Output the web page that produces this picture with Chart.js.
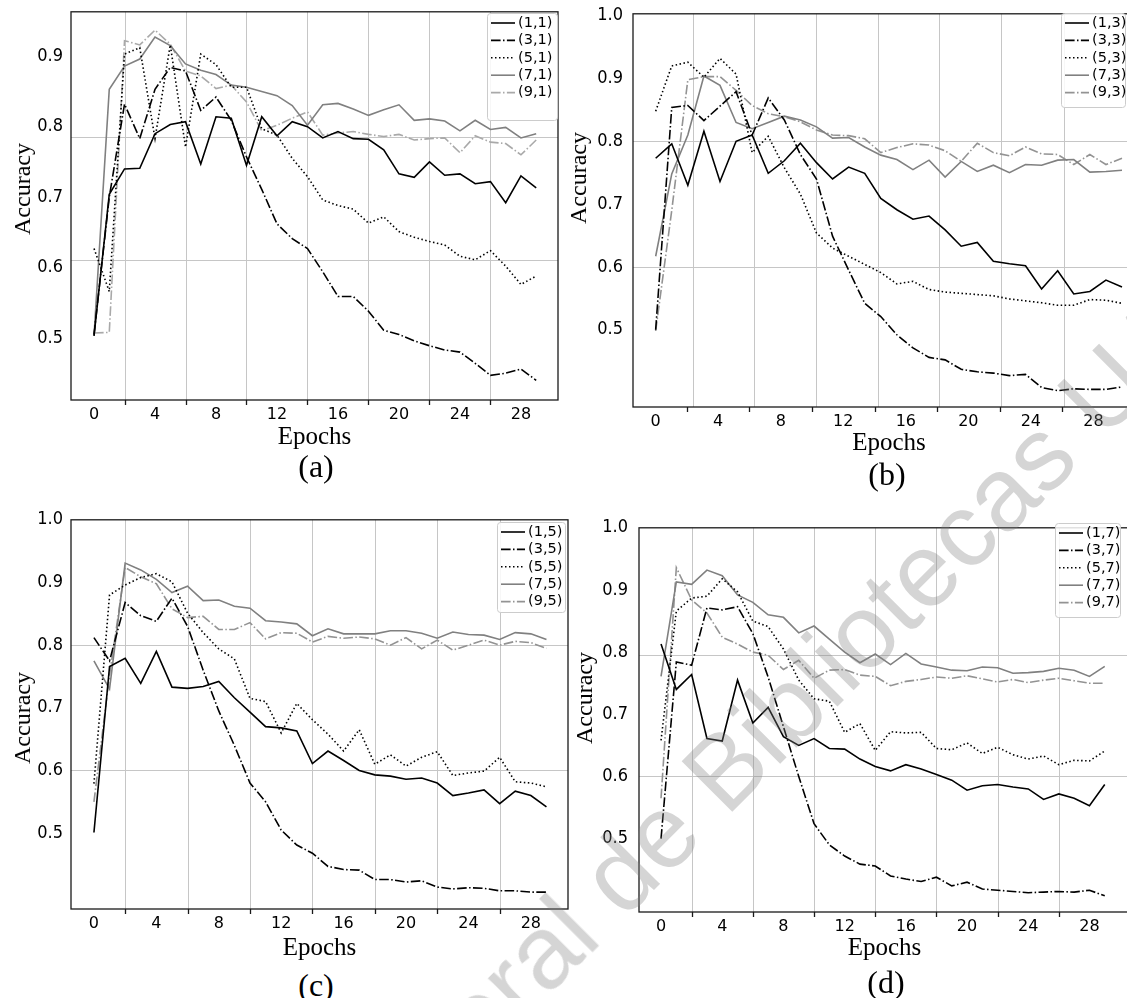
<!DOCTYPE html>
<html>
<head>
<meta charset="utf-8">
<script src="https://cdn.jsdelivr.net/npm/chart.js@4.4.1/dist/chart.umd.min.js"></script>
<style>
  html, body { margin: 0; padding: 0; background: #fff; width: 1127px; height: 998px; overflow: hidden; }
  body { position: relative; }
  .txt { position: absolute; font-family: 'Liberation Serif', 'Times New Roman', serif; color: #000; white-space: nowrap; line-height: 1; }
  .tag { font-size: 32px; transform: translate(-50%, -50%); }
  .ytitle { font-size: 24px; transform: translate(-50%, -50%) rotate(-90deg); }
  .mark { position: absolute; font-family: 'Liberation Sans', Arial, sans-serif; font-size: 104px; line-height: 1; color: rgba(128,128,128,0.33); white-space: nowrap; transform-origin: 0 88px; pointer-events: none; z-index: 5; }
</style>
</head>
<body>
<script>
// epochs and axis ticks
const epochs = [0,1,2,3,4,5,6,7,8,9,10,11,12,13,14,15,16,17,18,19,20,21,22,23,24,25,26,27,28,29];
const xTickLabels = [0, 4, 8, 12, 16, 20, 24, 28];
const yTicksA = [0.5, 0.6, 0.7, 0.8, 0.9];
const yTicksBCD = [0.5, 0.6, 0.7, 0.8, 0.9, 1.0];

const namesA = ['(1,1)', '(3,1)', '(5,1)', '(7,1)', '(9,1)'];
const namesB = ['(1,3)', '(3,3)', '(5,3)', '(7,3)', '(9,3)'];
const namesC = ['(1,5)', '(3,5)', '(5,5)', '(7,5)', '(9,5)'];
const namesD = ['(1,7)', '(3,7)', '(5,7)', '(7,7)', '(9,7)'];

// (a)
const acc11 = [0.503,0.704,0.740,0.741,0.790,0.803,0.807,0.747,0.814,0.812, 0.745,0.814,0.787,0.807,0.800,0.784,0.793,0.783,0.782,0.767, 0.733,0.728,0.750,0.731,0.733,0.719,0.722,0.692,0.730,0.713];
const acc31 = [0.505,0.700,0.832,0.783,0.853,0.884,0.879,0.823,0.842,0.809, 0.757,0.711,0.662,0.641,0.627,0.594,0.559,0.559,0.538,0.511, 0.505,0.496,0.489,0.483,0.480,0.464,0.447,0.450,0.456,0.440];
const acc51 = [0.627,0.566,0.903,0.912,0.783,0.916,0.771,0.903,0.888,0.856, 0.856,0.797,0.788,0.755,0.729,0.696,0.688,0.683,0.663,0.672, 0.651,0.643,0.637,0.632,0.616,0.611,0.624,0.602,0.576,0.588];
const acc71 = [0.503,0.853,0.886,0.896,0.927,0.915,0.889,0.880,0.874,0.859, 0.856,0.850,0.844,0.830,0.802,0.831,0.833,0.825,0.816,0.824, 0.831,0.809,0.811,0.808,0.794,0.809,0.796,0.799,0.784,0.790];
const acc91 = [0.507,0.508,0.922,0.916,0.937,0.917,0.879,0.872,0.854,0.859, 0.835,0.794,0.802,0.812,0.821,0.788,0.791,0.793,0.789,0.786, 0.789,0.781,0.783,0.784,0.763,0.787,0.778,0.776,0.760,0.781];
// (b)
const acc13 = [0.773,0.796,0.730,0.816,0.736,0.800,0.810,0.749,0.769,0.797, 0.766,0.740,0.759,0.749,0.709,0.691,0.676,0.681,0.659,0.633, 0.639,0.609,0.605,0.602,0.565,0.594,0.557,0.561,0.579,0.568];
const acc33 = [0.500,0.854,0.857,0.833,0.856,0.879,0.810,0.869,0.834,0.779, 0.740,0.649,0.595,0.542,0.521,0.492,0.471,0.456,0.452,0.437, 0.433,0.431,0.427,0.429,0.408,0.403,0.406,0.405,0.405,0.409];
const acc53 = [0.848,0.920,0.926,0.902,0.932,0.907,0.782,0.808,0.758,0.716, 0.654,0.630,0.617,0.604,0.591,0.573,0.577,0.564,0.560,0.558, 0.556,0.554,0.549,0.546,0.543,0.539,0.539,0.548,0.547,0.542];
const acc73 = [0.617,0.748,0.810,0.904,0.889,0.830,0.820,0.830,0.840,0.834, 0.823,0.805,0.806,0.791,0.778,0.771,0.755,0.770,0.743,0.768, 0.752,0.762,0.750,0.763,0.762,0.770,0.771,0.751,0.752,0.754];
const acc93 = [0.498,0.690,0.898,0.903,0.903,0.881,0.857,0.844,0.839,0.831, 0.818,0.810,0.809,0.804,0.782,0.790,0.796,0.794,0.785,0.768, 0.797,0.782,0.777,0.791,0.780,0.779,0.763,0.779,0.763,0.773];
// (c)
const acc15 = [0.501,0.766,0.779,0.739,0.790,0.733,0.731,0.734,0.742,0.716, 0.693,0.670,0.668,0.663,0.611,0.631,0.616,0.600,0.593,0.591, 0.586,0.588,0.580,0.560,0.564,0.569,0.547,0.567,0.560,0.542];
const acc35 = [0.812,0.775,0.868,0.847,0.838,0.875,0.830,0.760,0.695,0.640, 0.580,0.550,0.505,0.481,0.468,0.447,0.442,0.441,0.426,0.426, 0.422,0.424,0.414,0.411,0.413,0.412,0.408,0.408,0.406,0.406];
const acc55 = [0.579,0.880,0.896,0.908,0.914,0.901,0.851,0.820,0.794,0.778, 0.715,0.710,0.660,0.707,0.681,0.658,0.631,0.665,0.610,0.625, 0.607,0.621,0.630,0.592,0.596,0.599,0.621,0.582,0.580,0.574];
const acc75 = [0.775,0.730,0.931,0.920,0.905,0.884,0.894,0.871,0.872,0.862, 0.859,0.839,0.837,0.834,0.815,0.826,0.818,0.818,0.818,0.823, 0.823,0.819,0.811,0.821,0.817,0.816,0.809,0.820,0.818,0.809];
const acc95 = [0.550,0.752,0.924,0.909,0.898,0.858,0.844,0.846,0.825,0.825, 0.836,0.810,0.820,0.819,0.805,0.814,0.811,0.813,0.810,0.800, 0.812,0.794,0.808,0.792,0.800,0.808,0.800,0.806,0.804,0.795];
// (d)
const acc17 = [0.813,0.740,0.764,0.661,0.657,0.755,0.686,0.711,0.664,0.650, 0.661,0.645,0.644,0.628,0.616,0.609,0.619,0.612,0.603,0.594, 0.578,0.585,0.587,0.583,0.580,0.563,0.572,0.565,0.553,0.587];
const acc37 = [0.500,0.784,0.779,0.871,0.868,0.873,0.830,0.760,0.680,0.600, 0.524,0.490,0.472,0.459,0.456,0.440,0.435,0.431,0.438,0.424, 0.430,0.419,0.417,0.415,0.413,0.414,0.415,0.414,0.417,0.408];
const acc57 = [0.658,0.866,0.887,0.890,0.918,0.897,0.850,0.841,0.805,0.755, 0.725,0.721,0.671,0.685,0.642,0.672,0.670,0.671,0.645,0.643, 0.654,0.637,0.647,0.635,0.628,0.633,0.619,0.626,0.625,0.641];
const acc77 = [0.761,0.913,0.909,0.932,0.923,0.892,0.880,0.860,0.856,0.831, 0.842,0.821,0.800,0.783,0.797,0.780,0.798,0.781,0.776,0.771, 0.770,0.776,0.775,0.766,0.767,0.769,0.774,0.771,0.761,0.777];
const acc97 = [0.565,0.936,0.884,0.863,0.824,0.813,0.800,0.795,0.772,0.787, 0.758,0.771,0.772,0.763,0.761,0.746,0.753,0.756,0.760,0.758, 0.762,0.757,0.752,0.756,0.751,0.755,0.758,0.754,0.750,0.750];

const dashDot = [9.6, 2.4, 1.5, 2.4];
const dotted = [1.5, 2.5];
const lineStyles = [
  { color: '#000000', dash: [] },
  { color: '#000000', dash: dashDot },
  { color: '#000000', dash: dotted },
  { color: '#808080', dash: [] },
  { color: '#939393', dash: dashDot }
];
const grid4 = [2, 6, 10, 14, 18, 22, 26];

const panels = [
  { tag: '(a)', names: namesA, series: [acc11, acc31, acc51, acc71, acc91], yTicks: yTicksA, lastColor: '#a9a9a9',
    area: {l: 71, t: 7, r: 558, b: 400}, yAxisW: 71, yPad: 8,
    xData: [-1.51, 30.43], xLab: [-1.51, 30.43], yRange: [0.412, 0.963],
    gridX: grid4, gridY: [0.611, 0.785], tickX: grid4,
    legend: {l: 487, t: 13, r: 557, b: 120}, titlePad: 3, tagPos: [316, 466], yTitlePos: [22, 189] },
  { tag: '(b)', names: namesB, series: [acc13, acc33, acc53, acc73, acc93], yTicks: yTicksBCD, lastColor: '#939393',
    area: {l: 633, t: 7, r: 1145, b: 407}, yAxisW: 70, yPad: 10,
    xData: [-1.41, 30.43], xLab: [-1.45, 31.3], yRange: [0.377, 1.003],
    gridX: [2.4, 6.3, 10.25, 14.2, 18.1, 22.1, 26.1], gridY: [0.6, 0.8], tickX: grid4,
    legend: {l: 1061, t: 13, r: 1125, b: 107}, titlePad: 4, tagPos: [887, 474], yTitlePos: [578, 178] },
  { tag: '(c)', names: namesC, series: [acc15, acc35, acc55, acc75, acc95], yTicks: yTicksBCD, lastColor: '#939393',
    area: {l: 71, t: 515, r: 568, b: 909}, yAxisW: 71, yPad: 8,
    xData: [-1.47, 30.38], xLab: [-1.47, 30.38], yRange: [0.379, 1.0],
    gridX: grid4, gridY: [0.6, 0.8], tickX: grid4,
    legend: {l: 497, t: 522, r: 565, b: 612}, titlePad: 1, tagPos: [316, 985], yTitlePos: [22, 718] },
  { tag: '(d)', names: namesD, series: [acc17, acc37, acc57, acc77, acc97], yTicks: yTicksBCD, lastColor: '#939393',
    area: {l: 639, t: 520, r: 1130, b: 912}, yAxisW: 72, yPad: 11,
    xData: [-1.44, 30.65], xLab: [-1.44, 30.65], yRange: [0.382, 1.0],
    gridX: grid4, gridY: [0.601, 0.796], tickX: grid4,
    legend: {l: 1055, t: 523, r: 1120, b: 617}, titlePad: 4, tagPos: [886, 982], yTitlePos: [584, 698] }
];

// offset grid, frame, tick marks and the inner legend
const panelDeco = {
  id: 'panelDeco',
  beforeDatasetsDraw(chart, args, o) {
    const {ctx, chartArea: a} = chart;
    const xs = chart.scales.xl, ys = chart.scales.y;
    ctx.save();
    ctx.strokeStyle = '#c6c6c6';
    ctx.lineWidth = 1;
    ctx.beginPath();
    o.gridX.forEach(v => {
      const px = Math.round(xs.getPixelForValue(v)) + 0.5;
      ctx.moveTo(px, a.top); ctx.lineTo(px, a.bottom);
    });
    o.gridY.forEach(v => {
      const py = Math.round(ys.getPixelForValue(v)) + 0.5;
      ctx.moveTo(a.left, py); ctx.lineTo(a.right, py);
    });
    ctx.stroke();
    ctx.restore();
  },
  afterDraw(chart, args, o) {
    const {ctx, chartArea: a} = chart;
    const xs = chart.scales.xl;
    ctx.save();
    ctx.strokeStyle = '#1a1a1a';
    ctx.lineWidth = 1.3;
    ctx.strokeRect(a.left, a.top, a.right - a.left, a.bottom - a.top);
    ctx.beginPath();
    o.tickX.forEach(v => {
      const px = Math.round(xs.getPixelForValue(v)) + 0.5;
      ctx.moveTo(px, a.bottom); ctx.lineTo(px, a.bottom + 5);
    });
    ctx.stroke();

    const L = o.legend;
    ctx.fillStyle = 'rgba(255,255,255,0.85)';
    ctx.strokeStyle = '#cccccc';
    ctx.lineWidth = 1;
    ctx.beginPath();
    if (ctx.roundRect) ctx.roundRect(L.x + 0.5, L.y + 0.5, L.w, L.h, 3);
    else ctx.rect(L.x + 0.5, L.y + 0.5, L.w, L.h);
    ctx.fill();
    ctx.stroke();
    ctx.font = "14.5px 'DejaVu Sans'";
    ctx.textBaseline = 'middle';
    chart.data.datasets.forEach((ds, i) => {
      const y = L.y + 10 + i * 17.4;
      ctx.beginPath();
      ctx.strokeStyle = ds.borderColor;
      ctx.lineWidth = ds.borderWidth;
      ctx.setLineDash(ds.borderDash);
      ctx.moveTo(L.x + 4, y);
      ctx.lineTo(L.x + 28, y);
      ctx.stroke();
      ctx.setLineDash([]);
      ctx.fillStyle = '#000';
      ctx.fillText(ds.label, L.x + 31, y);
    });
    ctx.restore();
  }
};

const padTop = 14;
const xAxisH = 55;

function addText(cls, text, x, y) {
  const d = document.createElement('div');
  d.className = 'txt ' + cls;
  d.textContent = text;
  d.style.left = x + 'px';
  d.style.top = y + 'px';
  document.body.appendChild(d);
}

panels.forEach(p => {
  const A = p.area;
  const ox = A.l - p.yAxisW, oy = A.t - padTop;
  const w = A.r + 3 - ox, h = A.b + xAxisH - oy;
  const box = document.createElement('div');
  box.style.cssText = `position:absolute;left:${ox}px;top:${oy}px;width:${w}px;height:${h}px;`;
  const cv = document.createElement('canvas');
  cv.width = w; cv.height = h;
  cv.style.width = w + 'px'; cv.style.height = h + 'px';
  box.appendChild(cv);
  document.body.appendChild(box);

  new Chart(cv.getContext('2d'), {
    type: 'line',
    data: {
      datasets: p.series.map((vals, i) => ({
        label: p.names[i],
        data: vals.map((v, k) => ({x: epochs[k], y: v})),
        borderColor: i === 4 ? p.lastColor : lineStyles[i].color,
        borderDash: lineStyles[i].dash,
        borderWidth: 1.6,
        pointRadius: 0,
        tension: 0,
        fill: false
      }))
    },
    options: {
      responsive: false,
      animation: false,
      devicePixelRatio: 1,
      events: [],
      layout: { padding: { top: padTop, right: 3, left: 0, bottom: 0 } },
      scales: {
        x: { type: 'linear', display: false, min: p.xData[0], max: p.xData[1] },
        xl: {
          type: 'linear', axis: 'x', position: 'bottom', min: p.xLab[0], max: p.xLab[1],
          afterBuildTicks: s => { s.ticks = xTickLabels.map(v => ({value: v})); },
          afterFit: s => { s.height = xAxisH; },
          grid: { display: false, drawTicks: false },
          border: { display: false },
          ticks: { padding: 5, color: '#000', maxRotation: 0, autoSkip: false,
                   font: { family: "'DejaVu Sans'", size: 16 }, callback: v => String(v) },
          title: { display: true, text: 'Epochs', color: '#000',
                   font: { family: "'Liberation Serif'", size: 25 },
                   padding: { top: 0, bottom: p.titlePad } }
        },
        y: {
          type: 'linear', min: p.yRange[0], max: p.yRange[1],
          afterBuildTicks: s => { s.ticks = p.yTicks.map(v => ({value: v})); },
          afterFit: s => { s.width = p.yAxisW; },
          grid: { display: false, drawTicks: false },
          border: { display: false },
          ticks: { padding: p.yPad, color: '#000', autoSkip: false,
                   font: { family: "'DejaVu Sans Condensed', 'DejaVu Sans'", size: 18 },
                   callback: v => v.toFixed(1) }
        }
      },
      plugins: {
        legend: { display: false },
        tooltip: { enabled: false },
        panelDeco: {
          gridX: p.gridX, gridY: p.gridY, tickX: p.tickX,
          legend: { x: p.legend.l - ox, y: p.legend.t - oy, w: p.legend.r - p.legend.l, h: p.legend.b - p.legend.t }
        }
      }
    },
    plugins: [panelDeco]
  });

  addText('ytitle', 'Accuracy', p.yTitlePos[0], p.yTitlePos[1]);
  addText('tag', p.tag, p.tagPos[0], p.tagPos[1]);
});

// watermark across the figure
const markAnchor = [624, 920];
const m1 = document.createElement('div');
m1.className = 'mark';
m1.textContent = 'de Bibliotecas UAQ';
m1.style.left = markAnchor[0] + 'px';
m1.style.top = (markAnchor[1] - 88) + 'px';
m1.style.transform = 'rotate(-45deg)';
document.body.appendChild(m1);
const m2 = document.createElement('div');
m2.className = 'mark';
m2.textContent = 'Dirección General\u00a0';
m2.style.left = markAnchor[0] + 'px';
m2.style.top = (markAnchor[1] - 88) + 'px';
m2.style.transform = 'rotate(-45deg) translateX(-100%)';
document.body.appendChild(m2);
</script>
</body>
</html>
